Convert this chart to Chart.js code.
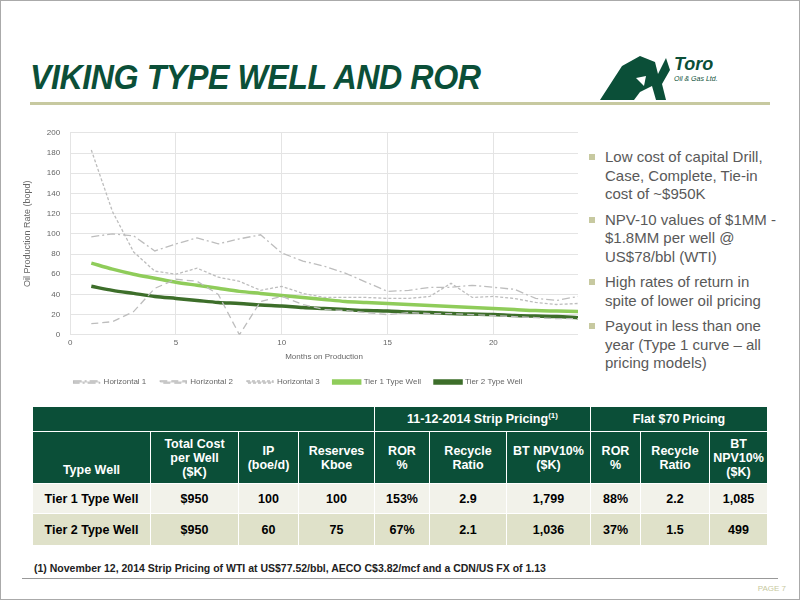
<!DOCTYPE html>
<html><head><meta charset="utf-8">
<script src="https://cdn.jsdelivr.net/npm/chart.js@4"></script>
<style>
body{margin:0;width:800px;height:600px;position:relative;background:#fff;font-family:"Liberation Sans",Arial,sans-serif;overflow:hidden}
#frame{position:absolute;left:0;top:0;width:798px;height:598px;border:1px solid #aaa}
h1{position:absolute;left:30px;top:57px;margin:0;font-size:35px;font-style:italic;font-weight:bold;color:#0b4f38;letter-spacing:-0.5px;transform:scaleX(0.92);transform-origin:left}
#rule{position:absolute;left:30px;top:102px;width:740px;height:3px;background:#c7c9a0}
#logo{position:absolute;left:600px;top:48px;width:195px;height:56px}
#chartbox{position:absolute;left:18px;top:118px;width:560px;height:278px}
ul{position:absolute;left:588px;top:148px;width:194px;margin:0;padding:0;list-style:none;color:#595959;font-size:15px;line-height:18.5px}
li{position:relative;padding-left:17px;margin-bottom:7px}
li:before{content:"";position:absolute;left:1px;top:6px;width:6px;height:6px;background:#c7c9a0}
table{position:absolute;left:32px;top:406px;width:736px;border-collapse:collapse;font-size:12.5px;font-weight:bold;text-align:center}
td{border:1px solid #fff;padding:0}
.h{background:#0b4f38;color:#fff}
.r1{background:#f2f2ea}.r2{background:#dfe1c9}
#foot{position:absolute;left:34px;top:562px;font-size:10.5px;font-weight:bold;color:#222}
#brule{position:absolute;left:22px;top:578px;width:756px;height:1px;background:#999}
#page{position:absolute;right:14px;top:584px;font-size:8px;color:#c7c9a0}
</style></head><body>
<div id="frame"></div>
<h1>VIKING TYPE WELL AND ROR</h1>
<div id="rule"></div>
<svg id="logo" viewBox="0 0 195 56">
<path d="M0 52 L22 18 L40 8 L55 14 L58 26 L66 10 L70 22 L62 36 L66 52 L56 52 L52 38 L40 44 L34 52 Z" fill="#0b4f38"/>
<path d="M36 30 L46 28 L44 38 Z" fill="#fff"/>
<text x="74" y="22" font-size="18" font-style="italic" font-weight="bold" fill="#0b4f38" font-family="Liberation Sans">Toro</text>
<text x="74" y="33" font-size="7" font-style="italic" fill="#0b4f38" font-family="Liberation Sans">Oil &amp; Gas Ltd.</text>
</svg>
<div id="chartbox"><canvas id="c"></canvas></div>
<ul>
<li>Low cost of capital Drill, Case, Complete, Tie-in cost of ~$950K</li>
<li>NPV-10 values of $1MM - $1.8MM per well @ US$78/bbl (WTI)</li>
<li>High rates of return in spite of lower oil pricing</li>
<li>Payout in less than one year (Type 1 curve – all pricing models)</li>
</ul>
<table>
<tr class="h" style="height:25px"><td colspan="4"></td><td colspan="3">11-12-2014 Strip Pricing<sup style="font-size:8px">(1)</sup></td><td colspan="3">Flat $70 Pricing</td></tr>
<tr class="h" style="height:52px"><td style="width:117px;vertical-align:bottom;padding-bottom:6px">Type Well</td><td style="width:87px">Total Cost<br>per Well<br>($K)</td><td style="width:59px">IP<br>(boe/d)</td><td style="width:75px">Reserves<br>Kboe</td><td style="width:54px">ROR<br>%</td><td style="width:76px">Recycle<br>Ratio</td><td style="width:83px">BT NPV10%<br>($K)</td><td style="width:49px">ROR<br>%</td><td style="width:68px">Recycle<br>Ratio</td><td>BT<br>NPV10%<br>($K)</td></tr>
<tr class="r1" style="height:30px"><td>Tier 1 Type Well</td><td>$950</td><td>100</td><td>100</td><td>153%</td><td>2.9</td><td>1,799</td><td>88%</td><td>2.2</td><td>1,085</td></tr>
<tr class="r2" style="height:32px"><td>Tier 2 Type Well</td><td>$950</td><td>60</td><td>75</td><td>67%</td><td>2.1</td><td>1,036</td><td>37%</td><td>1.5</td><td>499</td></tr>
</table>
<div id="foot">(1) November 12, 2014 Strip Pricing of WTI at US$77.52/bbl, AECO C$3.82/mcf and a CDN/US FX of 1.13</div>
<div id="brule"></div>
<div id="page">PAGE 7</div>
<script>
const months=[1,2,3,4,5,6,7,8,9,10,11,12,13,14,15,16,17,18,19,20,21,22,23,24];
const xTicks=[0,5,10,15,20];
const horizontal1=[97,100,98,83,90,96,90,95,99,81,73,68,61,52,43,44,47,47,49,47,45,36,34,38];
const horizontal2=[11,13,23,46,55,53,40,0,33,38,30,25,24,22,20,22,21,21,20,19,18,17,16,16];
const horizontal3=[183,122,82,63,60,66,57,53,44,48,41,37,37,37,36,36,38,51,37,38,36,32,30,31];
const tier1=[71,65,60,56,52,49,46,43,41,39,37,35,33,32,31,30,29,28,27,26,25,24,23.5,23];
const tier2=[48,44,41,38,36,34,32,31,29.5,28.5,27,26,25,24,23.5,22.5,22,21,20.5,20,19,18.5,18,17];
const xy=a=>a.map((v,i)=>({x:months[i],y:v}));
new Chart(document.getElementById('c'),{type:'line',
data:{datasets:[
{label:'Horizontal 1',data:xy(horizontal1),borderColor:'#bdbdbd',borderWidth:1.3,borderDash:[8,3,2,3],pointRadius:0,tension:0},
{label:'Horizontal 2',data:xy(horizontal2),borderColor:'#bdbdbd',borderWidth:1.3,borderDash:[7,4],pointRadius:0,tension:0},
{label:'Horizontal 3',data:xy(horizontal3),borderColor:'#bdbdbd',borderWidth:1.3,borderDash:[3,2],pointRadius:0,tension:0},
{label:'Tier 1 Type Well',data:xy(tier1),borderColor:'#8fcc5a',borderWidth:3.5,pointRadius:0,tension:0.3},
{label:'Tier 2 Type Well',data:xy(tier2),borderColor:'#3d6e2a',borderWidth:3.5,pointRadius:0,tension:0.3}]},
options:{responsive:true,maintainAspectRatio:false,animation:false,
plugins:{legend:{position:'bottom',labels:{boxWidth:26,boxHeight:2,font:{size:8},color:'#666',padding:14}},tooltip:{enabled:false}},
scales:{x:{type:'linear',min:0,max:24,afterBuildTicks:a=>{a.ticks=xTicks.map(v=>({value:v}));},ticks:{font:{size:8},color:'#666'},grid:{color:'#e4e4e4',drawTicks:false},border:{display:false},title:{display:true,text:'Months on Production',font:{size:8},color:'#666',padding:2}},
y:{min:0,max:200,ticks:{stepSize:20,font:{size:8},color:'#666',padding:10},grid:{color:'#e4e4e4',drawTicks:false},border:{display:false},title:{display:true,text:'Oil Production Rate (bopd)',font:{size:9},color:'#666'}}}}});
</script>
</body></html>
